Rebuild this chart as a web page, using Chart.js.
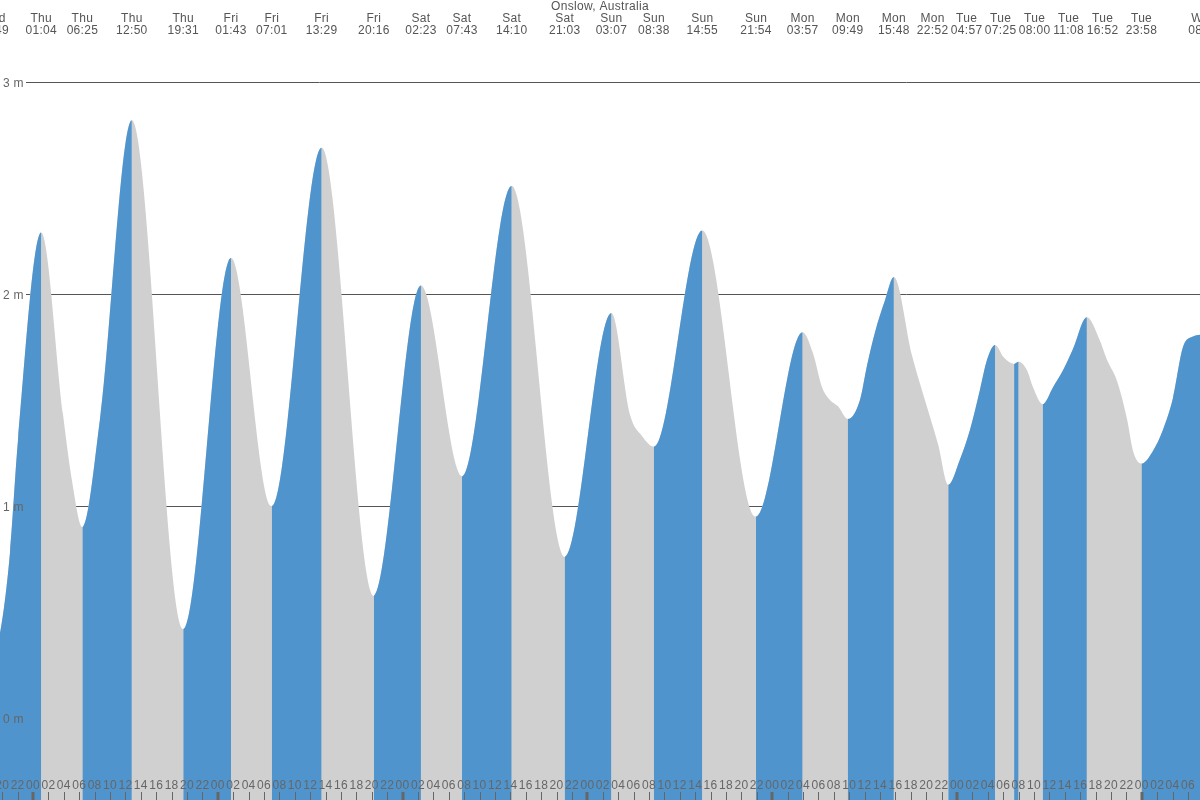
<!DOCTYPE html>
<html><head><meta charset="utf-8">
<script src="https://cdn.jsdelivr.net/npm/chart.js@4"></script>
<style>html,body{margin:0;padding:0;background:#fff;overflow:hidden}#wrap{width:1200px;height:800px;position:relative}</style>
</head><body><div id="wrap"><canvas id="c" width="1200" height="800"></canvas></div>
<script>
// ---- data (hours measured from Thu 00:00) ----
const chartTitle = "Onslow, Australia";
const extremeDayIndex = [-1, 0, 0, 0, 0, 1, 1, 1, 1, 2, 2, 2, 2, 3, 3, 3, 3, 4, 4, 4, 4, 5, 5, 5, 5, 5, 5, 6];
const extremeDays  = ["Wed","Thu","Thu","Thu","Thu","Fri","Fri","Fri","Fri","Sat","Sat","Sat","Sat","Sun","Sun","Sun","Sun","Mon","Mon","Mon","Mon","Tue","Tue","Tue","Tue","Tue","Tue","Wed"];
const extremeTimes = ["18:49","01:04","06:25","12:50","19:31","01:43","07:01","13:29","20:16","02:23","07:43","14:10","21:03","03:07","08:38","14:55","21:54","03:57","09:49","15:48","22:52","04:57","07:25","08:00","11:08","16:52","23:58","08:05"];
const extremeHeights = [0.30, 2.29, 0.90, 2.82, 0.42, 2.17, 1.00, 2.69, 0.575, 2.04, 1.14, 2.51, 0.76, 1.91, 1.28, 2.30, 0.95, 1.82, 1.41, 2.08, 1.10, 1.76, 1.67, 1.68, 1.48, 1.89, 1.20, 1.81];
// extra points read along the curve between extremes
const shapeHours   = [-4.29, -2.99, -1.95, 3.90, 5.06, 8.70, 77.53, 79.09, 101.30, 102.47, 103.50, 104.55, 107.40, 108.30, 109.35, 110.65, 114.16, 116.00, 117.55, 120.39, 121.69, 122.99, 123.90, 126.10, 129.09, 129.87, 132.47, 133.77, 135.06, 138.57, 139.48, 140.78, 142.08, 142.86, 145.45, 146.75, 148.05, 149.35, 150.65];
const shapeHeights = [0.40, 0.78, 1.31, 1.43, 1.12, 1.41, 1.43, 1.33, 1.72, 1.56, 1.50, 1.47, 1.50, 1.66, 1.82, 1.97, 1.71, 1.48, 1.29, 1.22, 1.36, 1.55, 1.69, 1.70, 1.64, 1.56, 1.56, 1.64, 1.74, 1.78, 1.69, 1.59, 1.41, 1.26, 1.26, 1.36, 1.51, 1.75, 1.80];
const yTicks = [0, 1, 2, 3];
const yTickLabels = ["0 m", "1 m", "2 m", "3 m"];
const hourTickStep = 2;
const xRange = [-4.286, 151.56];
const yRange = [-0.3868, 3.3868];

const BLUE = "#4f94cd", GRAY = "#d0d0d0", CLEAR = "rgba(0,0,0,0)";
const FONT = '12px "Liberation Sans", Arial, sans-serif';
const LABEL_SPACING = 34;

function toHour(dayIdx, t) { const [h, m] = t.split(":").map(Number); return dayIdx * 24 + h + m / 60; }
const extremeHours = extremeDays.map((d, i) => toHour(extremeDayIndex[i], extremeTimes[i]));
const points = extremeHours.map((h, i) => ({x: h, y: extremeHeights[i]}))
  .concat(shapeHours.map((h, i) => ({x: h, y: shapeHeights[i]})))
  .sort((a, b) => a.x - b.x);

// spread overlapping top labels (cluster-centred layout)
function spreadLabels(desired, s) {
  let cl = desired.map(x => ({n: 1, sum: x, start: x}));
  let changed = true;
  while (changed) {
    changed = false;
    for (let i = 0; i < cl.length - 1; i++) {
      const a = cl[i], b = cl[i + 1];
      if (a.start + a.n * s > b.start + 0.01) {
        const n = a.n + b.n, sum = a.sum + b.sum;
        cl.splice(i, 2, {n, sum, start: sum / n - (n - 1) * s / 2});
        changed = true; break;
      }
    }
  }
  const out = [];
  cl.forEach(c => { for (let k = 0; k < c.n; k++) out.push(c.start + k * s); });
  return out;
}

const overlay = {
  id: "overlay",
  beforeDatasetsDraw(chart) {
    const c = chart.ctx, ys = chart.scales.y, W = chart.width;
    c.save();
    c.strokeStyle = "#555"; c.lineWidth = 1;
    yTicks.forEach(v => {
      const y = Math.round(ys.getPixelForValue(v)) + 0.5;
      c.beginPath(); c.moveTo(26, y); c.lineTo(W, y); c.stroke();
    });
    c.restore();
  },
  afterDatasetsDraw(chart) {
    const c = chart.ctx, xs = chart.scales.x, ys = chart.scales.y, W = chart.width, H = chart.height;
    c.save();
    c.font = FONT;
    try { c.letterSpacing = "0.3px"; } catch (e) {}
    // y labels
    c.fillStyle = "#666"; c.textAlign = "left"; c.textBaseline = "alphabetic";
    yTicks.forEach((v, i) => c.fillText(yTickLabels[i], 3, Math.round(ys.getPixelForValue(v)) + 5));
    // hour ticks + labels
    c.textAlign = "center";
    const start = Math.ceil(xRange[0] / hourTickStep) * hourTickStep;
    for (let h = start; h <= xRange[1] + 0.01; h += hourTickStep) {
      const x = xs.getPixelForValue(h);
      const hh = ((h % 24) + 24) % 24;
      c.fillStyle = "#666";
      if (hh === 0) c.fillRect(Math.round(x) - 1.5, H - 8, 3, 8);
      else c.fillRect(Math.round(x), H - 8, 1, 8);
      c.fillText(String(hh).padStart(2, "0"), x, H - 11);
    }
    // title
    c.fillStyle = "#555";
    c.fillText(chartTitle, W / 2, 10);
    // extreme labels
    const lx = spreadLabels(extremeHours.map(h => xs.getPixelForValue(h)), LABEL_SPACING);
    extremeHours.forEach((h, i) => {
      c.fillText(extremeDays[i], lx[i], 22);
      c.fillText(extremeTimes[i], lx[i], 34);
    });
    c.restore();
  }
};

const common = {
  data: points,
  fill: "start",
  borderColor: CLEAR,
  borderWidth: 0,
  pointRadius: 0,
  cubicInterpolationMode: "monotone"
};

new Chart(document.getElementById("c"), {
  type: "line",
  data: { datasets: [
    Object.assign({}, common, {
      label: "rising",
      order: 1,
      backgroundColor: BLUE,
      segment: {
        backgroundColor: s => (s.p1.parsed.y >= s.p0.parsed.y ? BLUE : CLEAR),
        borderColor: CLEAR
      }
    }),
    Object.assign({}, common, {
      label: "tide",
      order: 2,
      backgroundColor: GRAY
    })
  ]},
  options: {
    responsive: false,
    animation: false,
    layout: { padding: 0 },
    events: [],
    scales: {
      x: { type: "linear", min: xRange[0], max: xRange[1], display: false },
      y: { min: yRange[0], max: yRange[1], display: false }
    },
    plugins: { legend: { display: false }, tooltip: { enabled: false }, title: { display: false } }
  },
  plugins: [overlay]
});
</script>
</body></html>
